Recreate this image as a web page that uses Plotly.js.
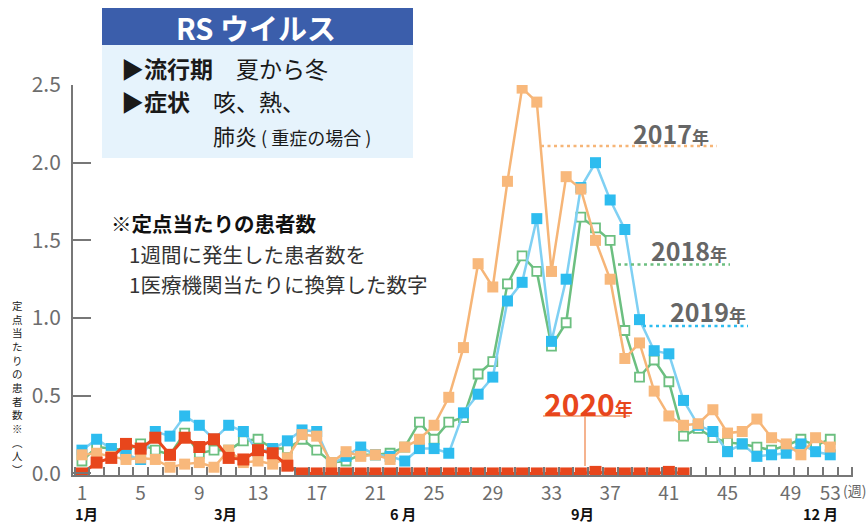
<!DOCTYPE html>
<html><head><meta charset="utf-8">
<script src="https://cdn.plot.ly/plotly-3.0.1.min.js"></script>
<style>html,body{margin:0;padding:0;background:#fff;}#chart{width:867px;height:523px;}</style>
</head><body><div id="chart"></div>
<script>
// ---- data ----
const weeks = [1,2,3,4,5,6,7,8,9,10,11,12,13,14,15,16,17,18,19,20,21,22,23,24,25,26,27,28,29,30,31,32,33,34,35,36,37,38,39,40,41,42,43,44,45,46,47,48,49,50,51,52];
const weeks2020 = [1,2,3,4,5,6,7,8,9,10,11,12,13,14,15,16,17,18,19,20,21,22,23,24,25,26,27,28,29,30,31,32,33,34,35,36,37,38,39,40,41,42];
const y2017 = [0.12,0.13,0.11,0.09,0.10,0.09,0.04,0.06,0.07,0.04,0.15,0.07,0.08,0.06,0.10,0.25,0.24,0.07,0.14,0.11,0.12,0.09,0.17,0.22,0.31,0.49,0.81,1.35,1.20,1.88,2.48,2.39,1.30,1.91,1.83,1.50,1.25,0.74,0.84,0.53,0.37,0.31,0.32,0.41,0.26,0.27,0.35,0.23,0.19,0.12,0.23,0.17];
const y2018 = [0.08,0.17,0.16,0.15,0.19,0.15,0.12,0.26,0.13,0.15,0.15,0.21,0.22,0.16,0.16,0.22,0.15,0.07,0.08,0.12,0.12,0.13,0.17,0.33,0.22,0.33,0.36,0.64,0.72,1.22,1.40,1.30,0.82,0.97,1.65,1.58,1.50,0.92,0.62,0.73,0.59,0.24,0.29,0.23,0.20,0.19,0.17,0.15,0.18,0.22,0.18,0.22];
const y2019 = [0.15,0.22,0.16,0.12,0.09,0.27,0.24,0.37,0.31,0.22,0.31,0.27,0.14,0.16,0.21,0.28,0.27,0.06,0.11,0.17,0.12,0.11,0.08,0.16,0.16,0.13,0.39,0.51,0.62,1.11,1.23,1.64,0.85,1.25,1.84,2.00,1.76,1.57,0.99,0.79,0.77,0.47,0.31,0.27,0.14,0.19,0.11,0.12,0.13,0.19,0.14,0.12];
const y2020 = [0.00,0.07,0.10,0.19,0.16,0.23,0.12,0.23,0.17,0.22,0.10,0.09,0.15,0.13,0.05,0,0,0,0,0,0,0,0,0,0,0,0,0,0,0,0,0,0,0,0,0.01,0,0,0,0,0.01,0];
const weekTickPos = [1,5,9,13,17,21,25,29,33,37,41,45,49.3,52];
const weekTickText = ['1','5','9','13','17','21','25','29','33','37','41','45','49','53'];
const yTickVals = [0,0.5,1,1.5,2,2.5];
const monthText = ['1月','3月','6 月','9月','12 月'];
const seriesNames = ['2017年','2018年','2019年','2020年'];
const yTitleChars = ['定','点','当','た','り','の','患','者','数','※','︵','人','︶'];

// ---- layout helpers (pixel -> paper) ----
const L=73, T=85, W=780, H=390;
const px = X => (X-L)/W;
const py = Y => (T+H-Y)/H;
const FONT = "'Noto Sans CJK JP','Noto Sans',sans-serif";
const C17='#f6b577', C18='#6cbf80', C19='#2dbcef', C19L='#7fd0f3', C20='#e8461c';

const traces = [
  {x:weeks, y:y2018, name:seriesNames[1], mode:'lines+markers', line:{color:C18,width:2.5},
   marker:{symbol:'square',size:9,color:'#ffffff',line:{color:C18,width:1.8}}},
  {x:weeks, y:y2019, name:seriesNames[2], mode:'lines+markers', line:{color:C19L,width:2.5},
   marker:{symbol:'square',size:11,color:C19,line:{width:0}}},
  {x:weeks, y:y2017, name:seriesNames[0], mode:'lines+markers', line:{color:C17,width:2.5},
   marker:{symbol:'square',size:11,color:'#f8b87b',line:{width:0}}},
  {x:weeks2020, y:y2020, name:seriesNames[3], mode:'lines+markers', line:{color:C20,width:3},
   marker:{symbol:'square',size:12,color:C20,line:{width:0}}}
].map(t=>Object.assign(t,{hoverinfo:'skip',showlegend:false}));

const ann = [];
const A = (X,Y,text,o) => ann.push(Object.assign({xref:'paper',yref:'paper',x:px(X),y:py(Y),text:text,showarrow:false,
  xanchor:'left',yanchor:'middle',borderpad:0,font:{family:FONT,size:20,color:'#222'}},o||{}));

// info box
A(256,26.5,'<b>RS ウイルス</b>',{xanchor:'center',font:{family:FONT,size:29,color:'#ffffff'}});
A(120,68,'<b>▶流行期</b>　夏から冬',{font:{family:FONT,size:23,color:'#1a1a1a'}});
A(120,101,'<b>▶症状</b>　咳、熱、',{font:{family:FONT,size:23,color:'#1a1a1a'}});
A(212,135,'肺炎<span style="font-size:18px"> (&nbsp;重症の場合&nbsp;)</span>',{font:{family:FONT,size:22,color:'#1a1a1a'}});
// note
A(110,223,'<b>※定点当たりの患者数</b>',{font:{family:FONT,size:20.5,color:'#111'}});
A(128,254,'1週間に発生した患者数を',{font:{family:FONT,size:20.5,color:'#333'}});
A(128,284,'1医療機関当たりに換算した数字',{font:{family:FONT,size:20.5,color:'#333'}});
// series labels
A(632,133,'<b>2017<span style="font-size:17px">年</span></b>',{font:{family:FONT,size:25,color:'#666'}});
A(650,250,'<b>2018<span style="font-size:17px">年</span></b>',{font:{family:FONT,size:25,color:'#666'}});
A(669,311,'<b>2019<span style="font-size:17px">年</span></b>',{font:{family:FONT,size:25,color:'#666'}});
A(543,403,'<b>2020<span style="font-size:18px">年</span></b>',{font:{family:FONT,size:30,color:C20}});
// months
const monthX=[86,225,403,582,820];
monthText.forEach((m,i)=>A(monthX[i],513.5,'<b>'+m+'</b>',{xanchor:'center',font:{family:FONT,size:14.5,color:'#111'}}));
// week unit
A(842,490,'(週)',{font:{family:FONT,size:14,color:'#666'}});
// vertical y title (one text, one character per line)
A(17,387,yTitleChars.join('<br>'),{xanchor:'center',font:{family:FONT,size:10.5,color:'#222'}});

const shapes = [
  {type:'rect',xref:'paper',yref:'paper',x0:px(102),x1:px(413),y0:py(45),y1:py(158),fillcolor:'#e6f3fc',line:{width:0},layer:'below'},
  {type:'rect',xref:'paper',yref:'paper',x0:px(102),x1:px(413),y0:py(8),y1:py(45),fillcolor:'#3b5eab',line:{width:0},layer:'below'},
  {type:'line',xref:'paper',yref:'paper',x0:px(541),x1:px(717),y0:py(146),y1:py(146),line:{color:C17,width:2.5,dash:'3px,3.5px'}},
  {type:'line',xref:'paper',yref:'paper',x0:px(618),x1:px(730),y0:py(264.5),y1:py(264.5),line:{color:C18,width:2.5,dash:'3px,3.5px'}},
  {type:'line',xref:'paper',yref:'paper',x0:px(643),x1:px(748),y0:py(326),y1:py(326),line:{color:C19,width:2.5,dash:'3px,3.5px'}},
  {type:'line',xref:'paper',yref:'paper',x0:px(543),x1:px(630),y0:py(416),y1:py(416),line:{color:'#f29a6a',width:1.5}},
  {type:'line',xref:'paper',yref:'paper',x0:px(585),x1:px(585),y0:py(416),y1:py(466),line:{color:'#f29a6a',width:1.5}}
];

const layout = {
  width:867, height:523, autosize:false,
  margin:{l:L,r:867-L-W,t:T,b:523-T-H,pad:0},
  paper_bgcolor:'#ffffff', plot_bgcolor:'#ffffff',
  font:{family:FONT},
  xaxis:{range:[0.39,53.55], showgrid:false, zeroline:false, showline:true, linecolor:'#777', linewidth:2,
    tickmode:'array', tickvals:weekTickPos, ticktext:weekTickText, ticks:'',
    tickfont:{family:FONT,size:19,color:'#6d6d6d'},
    minor:{ticks:'inside',ticklen:8,tickwidth:2,tickcolor:'#777',tick0:0.5,dtick:1,showgrid:false}},
  yaxis:{range:[-0.01,2.5], showgrid:false, zeroline:false, showline:true, linecolor:'#777', linewidth:2,
    tickmode:'array', tickvals:yTickVals, ticks:'inside', ticklen:18, tickwidth:2, tickcolor:'#777',
    tickformat:'.1f', ticklabelstandoff:6, tickfont:{family:FONT,size:21,color:'#6d6d6d'}},
  annotations:ann, shapes:shapes, showlegend:false
};
Plotly.newPlot('chart', traces, layout, {staticPlot:true, displayModeBar:false});
</script></body></html>
